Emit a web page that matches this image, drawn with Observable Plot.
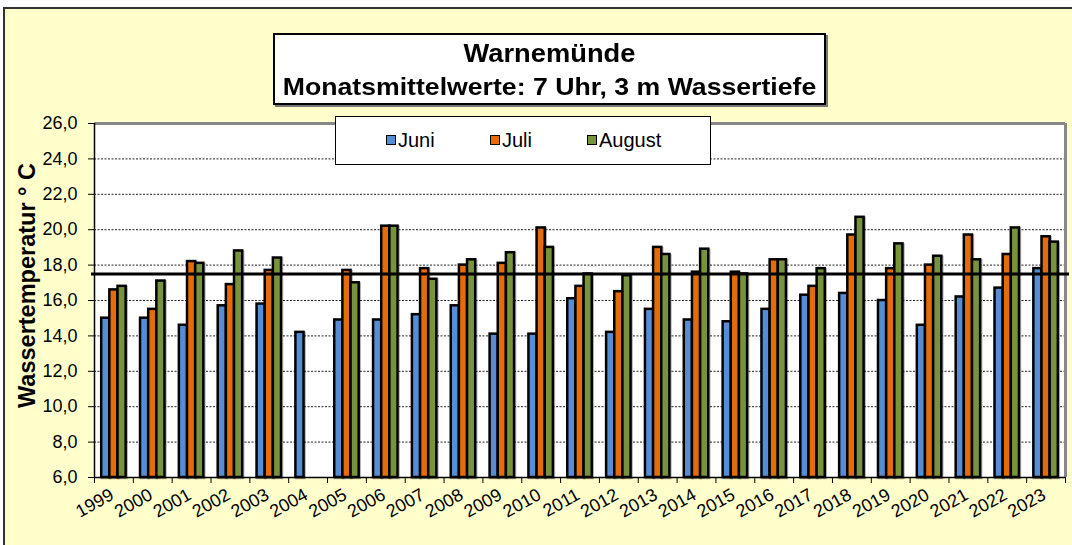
<!DOCTYPE html>
<html>
<head>
<meta charset="utf-8">
<script src="https://cdn.jsdelivr.net/npm/d3@7"></script>
<script src="https://cdn.jsdelivr.net/npm/@observablehq/plot@0.6"></script>
<style>
  body { margin: 0; background: #fff; font-family: "Liberation Sans", Arial, sans-serif; }
  #wrap { position: relative; width: 1072px; height: 545px; overflow: hidden; }
  #bg { position: absolute; left: 3px; top: 7px; width: 1100px; height: 600px; background: #FFFFCC; border: 2px solid #333; box-sizing: border-box; }
  #chart { position: absolute; left: 0; top: 0; }
  #title { position: absolute; left: 273px; top: 33px; width: 553px; height: 72px; background: #fff; border: 2px solid #000; box-shadow: 2px 2px 0 #777; box-sizing: border-box; font-weight: bold; color: #000; }
  #title div { position: absolute; left: 0; width: 100%; text-align: center; white-space: nowrap; transform-origin: 50% 50%; }
  #t1 { top: 5px; font-size: 26px; line-height: 26px; transform: scaleX(1.05); }
  #t2 { top: 40px; font-size: 24px; line-height: 24px; transform: scaleX(1.11); }
  #legend { position: absolute; left: 335px; top: 116px; width: 376px; height: 49px; background: #fff; border: 1.5px solid #000; box-sizing: border-box; }
  .item { position: absolute; top: 0; height: 46px; display: flex; align-items: center; font-size: 20px; color: #000; }
  .sw { width: 8px; height: 8px; border: 1.5px solid #000; margin-right: 2px; }
  svg g[aria-label="bar"] { filter: drop-shadow(1.5px 1px 0 rgba(0,0,0,0.3)); }
</style>
</head>
<body>
<div id="wrap">
  <div id="bg"></div>
  <div id="chart"></div>
  <div id="title"><div id="t1"></div><div id="t2"></div></div>
  <div id="legend"></div>
</div>
<script>
// ---- data ----
const years = ["1999","2000","2001","2002","2003","2004","2005","2006","2007","2008","2009","2010","2011","2012","2013","2014","2015","2016","2017","2018","2019","2020","2021","2022","2023"];
const months = ["Juni", "Juli", "August"];
const juni   = [15.0,15.0,14.6,15.7,15.8,14.2,14.9,14.9,15.2,15.7,14.1,14.1,16.1,14.2,15.5,14.9,14.8,15.5,16.3,16.4,16.0,14.6,16.2,16.7,17.8];
const juli   = [16.6,15.5,18.2,16.9,17.7,null,17.7,20.2,17.8,18.0,18.1,20.1,16.8,16.5,19.0,17.6,17.6,18.3,16.8,19.7,17.8,18.0,19.7,18.6,19.6];
const august = [16.8,17.1,18.1,18.8,18.4,null,17.0,20.2,17.2,18.3,18.7,19.0,17.5,17.4,18.6,18.9,17.5,18.3,17.8,20.7,19.2,18.5,18.3,20.1,19.3];
const colors = ["#558ED5", "#E46C0A", "#77933C"];
const yTicks = [6, 8, 10, 12, 14, 16, 18, 20, 22, 24, 26];
const refValue = 17.5;
const titleText = "Warnemünde";
const subtitleText = "Monatsmittelwerte: 7 Uhr, 3 m Wassertiefe";
const yLabel = "Wassertemperatur ° C";

const series = [juni, juli, august];
const rows = [];
months.forEach((m, mi) => years.forEach((y, yi) => {
  const v = series[mi][yi];
  if (v != null) rows.push({year: y, month: m, value: v});
}));

// ---- layout ----
const W = 1072, H = 545;
const mL = 94, mR = 7, mT = 123, mB = 68;
const bw = (W - mL - mR) / years.length;
const barFrac = 0.21;
const startFrac = (1 - 3 * barFrac) / 2;
const fmt = d => d.toFixed(1).replace(".", ",");

const barMarks = months.map((m, mi) => Plot.barY(rows.filter(r => r.month === m), {
  x: "year", y1: 6, y2: "value",
  fill: colors[mi], stroke: "#000", strokeWidth: 2.5,
  insetLeft: bw * (startFrac + mi * barFrac),
  insetRight: bw - bw * (startFrac + (mi + 1) * barFrac)
}));

const chart = Plot.plot({
  width: W, height: H,
  marginLeft: mL, marginRight: mR, marginTop: mT, marginBottom: mB,
  style: {background: "transparent", fontFamily: "'Liberation Sans', Arial, sans-serif", fontSize: "18px", color: "#000", overflow: "visible"},
  x: {type: "band", domain: years, padding: 0, round: false, axis: null},
  y: {domain: [6, 26], ticks: yTicks, tickFormat: fmt, tickSize: 6, tickPadding: 11, label: null},
  marks: [
    Plot.frame({fill: "#fff", stroke: "none"}),
    Plot.ruleY(yTicks.slice(1, -1), {stroke: "#222", strokeWidth: 1, strokeDasharray: "2,1.5"}),
    Plot.ruleY([26], {stroke: "#888", strokeWidth: 3}),
    Plot.ruleX([years[years.length - 1]], {x: d => d, y1: 6, y2: 26, dx: bw / 2, stroke: "#888", strokeWidth: 3}),
    ...barMarks,
    Plot.ruleX([years[0]], {x: d => d, y1: 6, y2: 26, dx: -bw / 2, stroke: "#000", strokeWidth: 1.5}),
    Plot.ruleY([6], {stroke: "#000", strokeWidth: 1.5}),
    Plot.ruleX(years, {x: d => d, y1: 6, y2: 6, dx: -bw / 2, insetBottom: -6, stroke: "#000"}),
    Plot.ruleX([years[years.length - 1]], {x: d => d, y1: 6, y2: 6, dx: bw / 2, insetBottom: -6, stroke: "#000"}),
    Plot.ruleY([refValue], {stroke: "#000", strokeWidth: 3, insetLeft: -3, insetRight: -4}),
    Plot.text(years, {x: d => d, frameAnchor: "bottom", lineAnchor: "bottom", text: d => d, rotate: -29, textAnchor: "end", dx: 1, dy: 21, fontSize: 18}),
    Plot.text([yLabel], {frameAnchor: "left", textAnchor: "middle", lineAnchor: "middle", text: d => d, rotate: -90, dx: -67, dy: -15, fontSize: 23.5, fontWeight: "bold"})
  ]
});
document.getElementById("chart").appendChild(chart);

// ---- title & legend ----
document.getElementById("t1").textContent = titleText;
document.getElementById("t2").textContent = subtitleText;
const legendLeft = [50, 154, 251];
const legend = document.getElementById("legend");
months.forEach((m, i) => {
  const it = document.createElement("div");
  it.className = "item";
  it.style.left = legendLeft[i] + "px";
  const sw = document.createElement("span");
  sw.className = "sw";
  sw.style.background = colors[i];
  const tx = document.createElement("span");
  tx.textContent = m;
  it.appendChild(sw); it.appendChild(tx);
  legend.appendChild(it);
});
</script>
</body>
</html>
